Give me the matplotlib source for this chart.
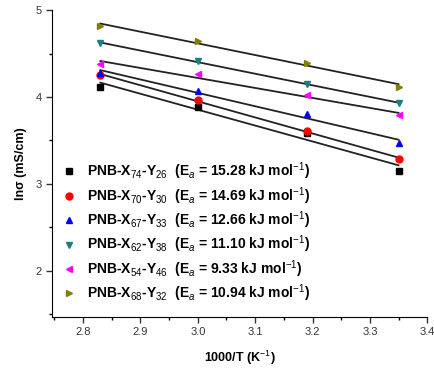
import numpy as np
import matplotlib
matplotlib.use("Agg")
import matplotlib.pyplot as plt
from matplotlib.ticker import MultipleLocator

plt.rcParams['font.family'] = ['Liberation Sans', 'DejaVu Sans']
plt.rcParams['mathtext.fontset'] = 'custom'
plt.rcParams['mathtext.rm'] = 'Liberation Sans'
plt.rcParams['mathtext.it'] = 'Liberation Sans:italic'
plt.rcParams['mathtext.bf'] = 'Liberation Sans:bold'

x_vals = [2.83, 3.00, 3.19, 3.35]
s_74_26 = [4.12, 3.885, 3.585, 3.15]
s_70_30 = [4.25, 3.965, 3.61, 3.29]
s_67_33 = [4.28, 4.07, 3.80, 3.47]
s_62_38 = [4.62, 4.41, 4.15, 3.93]
s_54_46 = [4.38, 4.26, 4.02, 3.79]
s_68_32 = [4.82, 4.64, 4.39, 4.12]

labels = [
    r"PNB-X$_{74}$-Y$_{26}$  (E$_{a}$ = 15.28 kJ mol$^{-1}$)",
    r"PNB-X$_{70}$-Y$_{30}$  (E$_{a}$ = 14.69 kJ mol$^{-1}$)",
    r"PNB-X$_{67}$-Y$_{33}$  (E$_{a}$ = 12.66 kJ mol$^{-1}$)",
    r"PNB-X$_{62}$-Y$_{38}$  (E$_{a}$ = 11.10 kJ mol$^{-1}$)",
    r"PNB-X$_{54}$-Y$_{46}$  (E$_{a}$ = 9.33 kJ mol$^{-1}$)",
    r"PNB-X$_{68}$-Y$_{32}$  (E$_{a}$ = 10.94 kJ mol$^{-1}$)",
]
series = [s_74_26, s_70_30, s_67_33, s_62_38, s_54_46, s_68_32]
colors = ['#000000', '#ff0000', '#0000ff', '#1b7f7f', '#ff00ff', '#808000']
markers = ['s', 'o', '^', 'v', '<', '>']

fig = plt.figure(figsize=(4.35, 3.72), dpi=100)
ax = fig.add_axes([0.12, 0.148, 0.862, 0.825])

x = np.array(x_vals)
for ys, c, m, lab in zip(series, colors, markers, labels):
    ys = np.array(ys)
    p = np.polyfit(x, ys, 1)
    ax.plot(x, np.polyval(p, x), color='#222222', lw=1.3, zorder=2)
    ax.plot(x, ys, linestyle='none', marker=m, color=c, markersize=5, label=lab, zorder=3)

ax.set_xlim(2.746, 3.4)
ax.set_ylim(1.47, 5.0)
ax.xaxis.set_minor_locator(MultipleLocator(0.05))
ax.yaxis.set_minor_locator(MultipleLocator(0.5))
ax.set_xticks([2.8, 2.9, 3.0, 3.1, 3.2, 3.3, 3.4])
ax.set_xticklabels(['2.8', '2.9', '3.0', '3.1', '3.2', '3.3', '3.4'])
ax.set_yticks([2, 3, 4, 5])
ax.set_yticklabels(['2', '3', '4', '5'])
ax.spines['top'].set_visible(False)
ax.spines['right'].set_visible(False)
ax.tick_params(which='major', direction='out', length=4, width=1, labelsize=8, colors='#333333')
ax.tick_params(which='minor', direction='out', length=2.5, width=1)
ax.set_xlabel(r"1000/T (K$^{-1}$)", fontsize=9, fontweight='bold', labelpad=8)
ax.set_ylabel("lnσ (mS/cm)", fontsize=9, fontweight='bold', labelpad=6)

leg = ax.legend(loc='lower left', bbox_to_anchor=(0.0, 0.01), frameon=False,
                fontsize=10, handlelength=1.0, handletextpad=0.8, labelspacing=0.2,
                borderaxespad=0.3)
for t in leg.get_texts():
    t.set_fontweight('bold')

fig.savefig('out.png', dpi=100)
